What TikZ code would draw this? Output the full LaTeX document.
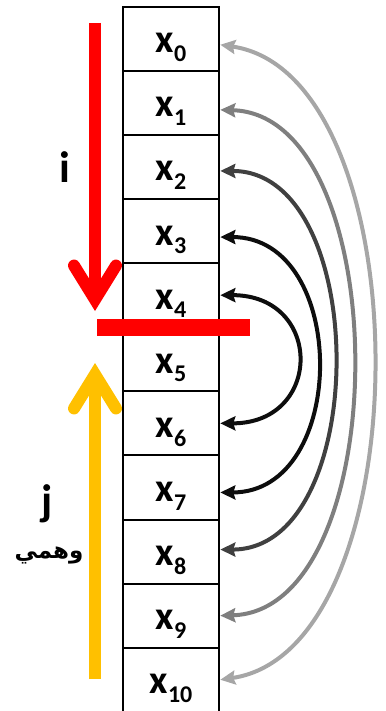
\documentclass[tikz,border=0pt]{standalone}
\usepackage{fontspec}
\setmainfont{Carlito}
\newfontfamily\arabicfont[Script=Arabic]{DejaVu Sans}
\TeXXeTstate=1
\usetikzlibrary{arrows.meta,shapes,positioning}

\definecolor{pointerred}{HTML}{FF0000}
\definecolor{pointergold}{HTML}{FFC000}
\definecolor{arcblack}{HTML}{0D0D0D}
\definecolor{arcdark}{HTML}{404040}
\definecolor{arcgray}{HTML}{7F7F7F}
\definecolor{arclight}{HTML}{A6A6A6}

% x with a lowered index
\newcommand{\cellx}[1]{x\raisebox{-8.7pt}{\fontsize{24}{24}\selectfont #1}}

\begin{document}
\begin{tikzpicture}[x=1pt, y=-1pt, node distance = 64.1pt]
	\tikzset{CellStyle/.style = {
			shape=rectangle,
			draw=black,
			line width=2pt,
			minimum width=96.6pt,
			minimum height=64.1pt,
			inner sep=0pt,
			text height=34pt,
			text depth=6pt,
			font=\fontsize{40}{44}\selectfont\bfseries
	}}
	\tikzset{PointerStyle/.style = {
			line width=12pt,
			-{Straight Barb[length=34pt, width=42pt, line cap=round, line join=miter]}
	}}
	\tikzset{SwapStyle/.style = {
			line width=4pt,
			{Stealth[length=15pt, width=14pt, inset=2pt]}-{Stealth[length=15pt, width=14pt, inset=2pt]}
	}}
	\tikzset{LabelStyle/.style = {
			anchor=base,
			font=\fontsize{44}{48}\selectfont\bfseries
	}}
	\useasboundingbox (0,0) rectangle (385,711);

	% the array
	\node[CellStyle] (0) at (171,38.75) {\cellx{0}};
	\node[CellStyle, below of= 0] (1) {\cellx{1}};
	\node[CellStyle, below of= 1] (2) {\cellx{2}};
	\node[CellStyle, below of= 2] (3) {\cellx{3}};
	\node[CellStyle, below of= 3] (4) {\cellx{4}};
	\node[CellStyle, below of= 4] (5) {\cellx{5}};
	\node[CellStyle, below of= 5] (6) {\cellx{6}};
	\node[CellStyle, below of= 6] (7) {\cellx{7}};
	\node[CellStyle, below of= 7] (8) {\cellx{8}};
	\node[CellStyle, below of= 8] (9) {\cellx{9}};
	\node[CellStyle, below of= 9] (10) {\cellx{10}};

	% swaps
	\draw[SwapStyle, arclight] ([yshift=-6pt]0.east) .. controls +(203,30) and +(203,-30) .. (10.east);
	\draw[SwapStyle, arcgray] ([yshift=-7pt]1.east) .. controls +(176,5) and +(176,-5) .. (9.east);
	\draw[SwapStyle, arcdark] ([yshift=-4pt]2.east) .. controls +(151,0) and +(151,0) .. ([yshift=2pt]8.east);
	\draw[SwapStyle, arcblack] ([yshift=-6pt]3.east) .. controls +(129,0) and +(129,0) .. ([yshift=-5pt]7.east);
	\draw[SwapStyle, arcblack] (4.east) .. controls +(103,0) and +(103,0) .. (6.east);

	% i and j
	\coordinate (itop) at (95,23);
	\coordinate (itip) at (95,311);
	\coordinate (jbottom) at (95,679);
	\coordinate (jtip) at (95,363);
	\draw[PointerStyle, pointerred] (itop) -- (itip);
	\draw[PointerStyle, pointergold] (jbottom) -- (jtip);
	\fill[pointerred] (97,319) rectangle (250,336);

	\node[LabelStyle] (i) at (64.5,183) {i};
	\node[LabelStyle] (j) at (47.5,515) {j};
	\node[anchor=base, font=\arabicfont\bfseries\fontsize{23}{25}\selectfont] (jnote) at (49,558) {\beginR وهمي\endR};
\end{tikzpicture}
\end{document}
